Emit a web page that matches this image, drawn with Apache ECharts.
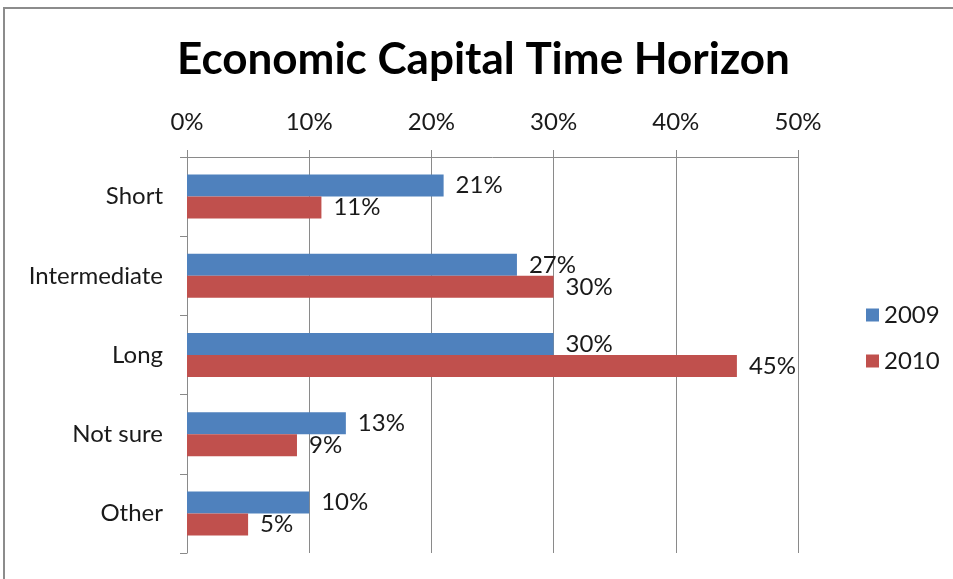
<!DOCTYPE html>
<html>
<head>
<meta charset="utf-8">
<style>
  html, body { margin: 0; padding: 0; background: #ffffff; }
  #chart { width: 953px; height: 579px; }
</style>
<script src="https://cdn.jsdelivr.net/npm/echarts@6/dist/echarts.min.js"></script>
</head>
<body>
<div id="chart"></div>
<script>
// Survey answers: time horizon used for economic capital, by year
const categories = ['Short', 'Intermediate', 'Long', 'Not sure', 'Other'];
const values2009 = [21, 27, 30, 13, 10];
const values2010 = [11, 30, 45, 9, 5];
const seriesNames = ['2009', '2010'];
const axisTicks = [0, 10, 20, 30, 40, 50];

const FONT = 'Lato, "Liberation Sans", sans-serif';
const TEXT = '#1a1a1a';
const GRID = '#8a8a8a';
const LABEL_SIZE = 24;

const chart = echarts.init(document.getElementById('chart'), null, { renderer: 'canvas' });

function barSeries(name, data, color) {
  return {
    name: name,
    type: 'bar',
    data: data,
    barWidth: 22,
    barGap: '0%',
    itemStyle: { color: color },
    label: {
      show: true,
      position: 'right',
      distance: 12,
      formatter: p => p.value + '%',
      fontFamily: FONT,
      fontSize: LABEL_SIZE,
      color: TEXT
    }
  };
}

chart.setOption({
  backgroundColor: '#ffffff',
  animation: false,
  title: {
    text: 'Economic Capital Time Horizon',
    left: 172,
    top: 33,
    textStyle: { fontFamily: FONT, fontSize: 44, fontWeight: 'bold', color: '#000000' }
  },
  graphic: [{
    type: 'rect',
    shape: { x: 4, y: 8, width: 960, height: 600 },
    style: { fill: 'none', stroke: '#8c8c8c', lineWidth: 2 },
    silent: true
  }],
  legend: {
    orient: 'vertical',
    left: 861,
    top: 298,
    itemGap: 22,
    itemWidth: 13,
    itemHeight: 13,
    icon: 'rect',
    textStyle: { fontFamily: FONT, fontSize: LABEL_SIZE, color: TEXT },
    data: seriesNames
  },
  grid: { left: 187, right: 155, top: 157, bottom: 26, containLabel: false },
  xAxis: {
    type: 'value',
    position: 'top',
    min: axisTicks[0],
    max: axisTicks[axisTicks.length - 1],
    interval: axisTicks[1] - axisTicks[0],
    axisLine: { show: true, lineStyle: { color: GRID, width: 1 } },
    axisTick: { show: true, length: 7, lineStyle: { color: GRID } },
    splitLine: { show: true, lineStyle: { color: GRID, width: 1 } },
    axisLabel: {
      formatter: '{value}%',
      margin: 23,
      fontFamily: FONT,
      fontSize: LABEL_SIZE,
      color: TEXT
    }
  },
  yAxis: {
    type: 'category',
    inverse: true,
    data: categories,
    axisLine: { show: true, lineStyle: { color: GRID, width: 1 } },
    axisTick: { show: true, length: 7, lineStyle: { color: GRID } },
    axisLabel: {
      margin: 24,
      fontFamily: FONT,
      fontSize: LABEL_SIZE,
      color: TEXT
    }
  },
  series: [
    barSeries(seriesNames[0], values2009, '#4f81bd'),
    barSeries(seriesNames[1], values2010, '#c0504d')
  ]
});
</script>
</body>
</html>
